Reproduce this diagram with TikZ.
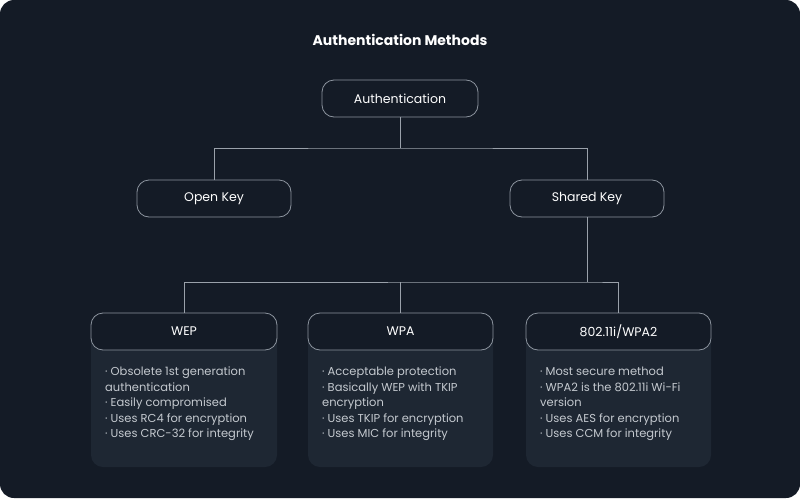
\documentclass[tikz,border=0pt]{standalone}
\usepackage{fontspec}
\setmainfont{Poppins}
\begin{document}
\begin{tikzpicture}[x=1pt,y=-1pt,
  box/.style={draw=boxline,line width=0.8pt,rounded corners=12pt,fill=bg,text=white,font=\fontsize{12.5}{14}\selectfont},
  card/.style={fill=card,rounded corners=12pt},
  txt/.style={anchor=north west,text=txtc,font=\fontsize{11.5}{15.5}\selectfont,align=left,inner sep=0pt},
  ln/.style={draw=linec,line width=0.8pt}]
\definecolor{bg}{HTML}{141B26}
\definecolor{card}{HTML}{1E2733}
\definecolor{boxline}{HTML}{8C949E}
\definecolor{linec}{HTML}{9AA1AA}
\definecolor{txtc}{HTML}{C4C9CF}
\useasboundingbox (0,0) rectangle (800,498);
\fill[bg,rounded corners=14pt] (0,0) rectangle (800,498);
\node[text=white,font=\bfseries\fontsize{14}{16}\selectfont] (title) at (400,40) {Authentication Methods};
\fill[card] (91,313) rectangle (277,467);
\fill[card] (308,313) rectangle (493,467);
\fill[card] (526,313) rectangle (711,467);
\node[box,minimum width=156pt,minimum height=37pt] (auth) at (400,98.5) {Authentication};
\node[box,minimum width=154pt,minimum height=37pt] (open) at (214,198.5) {Open Key};
\node[box,minimum width=154pt,minimum height=37pt] (shared) at (587,198.5) {Shared Key};
\node[box,minimum width=186pt,minimum height=37pt] (wep) at (184,331.5) {WEP};
\node[box,minimum width=185pt,minimum height=37pt] (wpa) at (400.5,331.5) {WPA};
\node[box,minimum width=185pt,minimum height=37pt] (wpa2) at (618.5,331.5) {802.11i/WPA2};
\coordinate (j1) at (400,148);
\coordinate (j2) at (587,282);
\draw[ln] (auth.south) -- (j1);
\draw[ln] (open.north) |- (j1) -| (shared.north);
\draw[ln] (shared.south) -- (j2);
\draw[ln] (wep.north) |- (j2) -| (wpa2.north);
\draw[ln] (wpa.north) -- (wpa.north |- j2);
\node[txt] (t1) at (105,367) {· Obsolete 1st generation\\authentication\\· Easily compromised\\· Uses RC4 for encryption\\· Uses CRC-32 for integrity};
\node[txt] (t2) at (322,367) {· Acceptable protection\\· Basically WEP with TKIP\\encryption\\· Uses TKIP for encryption\\· Uses MIC for integrity};
\node[txt] (t3) at (540,367) {· Most secure method\\· WPA2 is the 802.11i Wi-Fi\\version\\· Uses AES for encryption\\· Uses CCM for integrity};
\end{tikzpicture}
\end{document}
